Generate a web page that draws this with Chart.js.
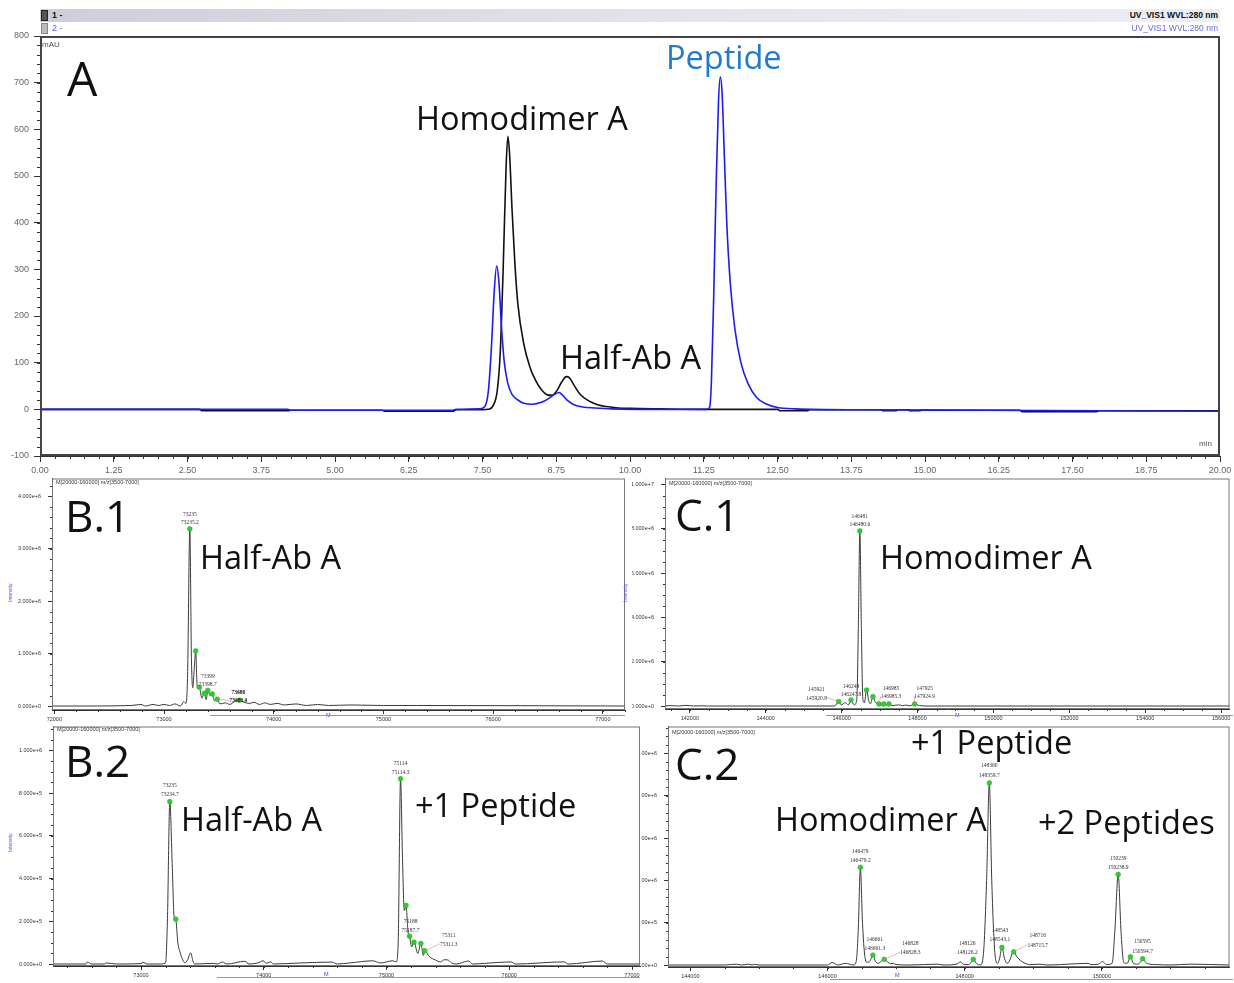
<!DOCTYPE html>
<html>
<head>
<meta charset="utf-8">
<script src="https://cdn.jsdelivr.net/npm/chart.js@4.4.1/dist/chart.umd.min.js"></script>
<style>
  html, body { margin: 0; padding: 0; background: #fff; }
  body { width: 1234px; height: 983px; position: relative; overflow: hidden; font-family: "Liberation Sans", Arial, sans-serif; }
  canvas { position: absolute; }
  .big { position: absolute; font-family: "Open Sans", sans-serif; color: #111; white-space: nowrap; line-height: 1; }
  .tiny { position: absolute; white-space: nowrap; line-height: 1; }
  .rot { position: absolute; white-space: nowrap; line-height: 1; transform: rotate(-90deg); transform-origin: 0 0; color: #5555ee; font-size: 5px; }
  .bar { position: absolute; height: 1px; background: #9a9a9a; }
</style>
</head>
<body>

<canvas id="uv"></canvas>
<canvas id="b1"></canvas>
<canvas id="c1"></canvas>
<canvas id="b2"></canvas>
<canvas id="c2"></canvas>

<!-- chromatogram header rows -->
<div style="position:absolute;left:40px;top:9px;width:1180px;height:13px;background:linear-gradient(90deg,#cdcedc,#e3e4ee 55%,#eceef5);"></div>
<div style="position:absolute;left:41px;top:10px;width:7px;height:11px;background:#555;border:1px solid #222;box-sizing:border-box;"></div>
<div style="position:absolute;left:41px;top:23px;width:7px;height:11px;background:#bbb;border:1px solid #888;box-sizing:border-box;"></div>
<div class="tiny" style="left:52px;top:11px;font-size:9px;font-weight:bold;color:#111;">1 -</div>
<div class="tiny" style="left:52px;top:24px;font-size:9px;color:#5555ff;">2 -</div>
<div class="tiny" style="right:16px;top:11px;font-size:8.5px;font-weight:bold;color:#111;">UV_VIS1 WVL:280 nm</div>
<div class="tiny" style="right:16px;top:24px;font-size:8.5px;color:#6a6ad8;">UV_VIS1 WVL:280 nm</div>
<div class="tiny" style="left:42px;top:41px;font-size:8px;color:#555;">mAU</div>
<div class="tiny" style="left:1199px;top:440px;font-size:8px;color:#555;">min</div>

<!-- panel captions -->
<div class="big" style="left:67px;top:54px;font-size:48px;">A</div>
<div class="big" style="left:416px;top:102px;font-size:32.5px;">Homodimer A</div>
<div class="big" style="left:666px;top:41px;font-size:32.5px;color:#1f7ad0;">Peptide</div>
<div class="big" style="left:560px;top:341px;font-size:32.5px;">Half-Ab A</div>

<div class="big" style="left:65px;top:493px;font-size:44px;">B.1</div>
<div class="big" style="left:200px;top:541px;font-size:32.5px;">Half-Ab A</div>
<div class="big" style="left:675px;top:492px;font-size:44px;">C.1</div>
<div class="big" style="left:880px;top:541px;font-size:32.5px;">Homodimer A</div>

<div class="big" style="left:65px;top:738px;font-size:44px;">B.2</div>
<div class="big" style="left:181px;top:803px;font-size:32.5px;">Half-Ab A</div>
<div class="big" style="left:415px;top:789px;font-size:32.5px;">+1 Peptide</div>
<div class="big" style="left:675px;top:741px;font-size:44px;">C.2</div>
<div class="big" style="left:911px;top:726px;font-size:32.5px;">+1 Peptide</div>
<div class="big" style="left:775px;top:803px;font-size:32.5px;">Homodimer A</div>
<div class="big" style="left:1038px;top:806px;font-size:32.5px;">+2 Peptides</div>

<!-- spectrum headers, axis names, scroll bars -->
<div class="tiny" style="left:56px;top:480px;font-size:5.5px;color:#333;">M[20000-160000] m/z[3500-7000]</div>
<div class="tiny" style="left:669px;top:481px;font-size:5.5px;color:#333;">M[20000-160000] m/z[3500-7000]</div>
<div class="tiny" style="left:57px;top:727px;font-size:5.5px;color:#333;">M[20000-160000] m/z[3500-7000]</div>
<div class="tiny" style="left:672px;top:730px;font-size:5.5px;color:#333;">M[20000-160000] m/z[3500-7000]</div>
<div class="rot" style="left:8px;top:602px;">Intensity</div>
<div class="rot" style="left:8px;top:852px;">Intensity</div>
<div class="rot" style="left:623px;top:602px;">Intensity</div>
<div class="tiny" style="left:326px;top:713px;font-size:5.5px;color:#4444dd;">M</div>
<div class="tiny" style="left:955px;top:713px;font-size:5.5px;color:#4444dd;">M</div>
<div class="tiny" style="left:324px;top:972px;font-size:5.5px;color:#4444dd;">M</div>
<div class="tiny" style="left:895px;top:973px;font-size:5.5px;color:#4444dd;">M</div>
<div class="bar" style="left:210px;top:715px;width:415px;"></div>
<div class="bar" style="left:826px;top:715px;width:407px;"></div>
<div class="bar" style="left:217px;top:977px;width:423px;"></div>
<div class="bar" style="left:830px;top:979px;width:403px;"></div>

<script>
// ---------------- UV chromatogram, 280 nm (time in min, absorbance in mAU) ----------------
const uvTrace1 = [[0,0],[2.7,0],[2.75,-3],[4.2,-3],[4.25,-2],[5.8,-2],[5.85,-4],[7.0,-4],[7.05,-1],[7.5,-1],[7.6,0],
  [7.68,8],[7.75,40],[7.8,120],[7.85,300],[7.9,520],[7.93,585],[7.96,545],[8.0,430],[8.05,310],[8.1,225],[8.2,140],
  [8.3,92],[8.4,62],[8.5,42],[8.6,31],[8.68,30],[8.76,40],[8.84,58],[8.92,70],[8.97,68],[9.05,52],[9.15,33],[9.3,18],
  [9.45,10],[9.6,6],[9.8,3],[10.0,2],[10.5,1],[11.3,0],[12.5,0],[12.55,-3],[13.0,-3],[13.05,-1],[14.25,-1],[14.3,-3],
  [14.5,-3],[14.55,-1],[14.7,-1],[14.75,-3],[14.9,-3],[14.95,-2],[16.6,-2],[16.65,-5],[17.9,-5],[17.95,-3],[20,-3]];
const uvTrace2 = [[0,0],[4.2,0],[4.25,-2],[7.0,-2],[7.05,0],[7.45,1],[7.54,6],[7.6,40],[7.65,130],[7.7,255],[7.74,307],
  [7.78,270],[7.82,180],[7.87,100],[7.93,55],[8.0,32],[8.1,20],[8.2,13],[8.35,11],[8.5,15],[8.62,23],[8.72,32],[8.8,36],
  [8.86,30],[8.95,18],[9.05,10],[9.2,5],[9.4,3],[9.7,1],[10.5,0],[11.3,0],[11.35,5],[11.38,60],[11.42,250],[11.46,480],
  [11.5,660],[11.53,712],[11.56,680],[11.6,540],[11.64,400],[11.7,270],[11.78,170],[11.88,100],[12.0,55],[12.15,25],
  [12.3,12],[12.5,4],[12.8,1],[14.0,-1],[16.0,-2],[18.0,-3],[20,-4]];

// ---------------- deconvoluted mass spectra (mass in Da, intensity in counts) ----------------
// B.1  half antibody
const b1Trace = [[71979,0],[72300,0],[72700,1e4],[72790,3e4],[72830,0],[72900,3e4],[72950,1e4],[73000,3e4],[73050,1e4],
  [73100,4e4],[73150,0],[73180,8e4],[73200,5e4],[73215,6e5],[73235.2,3.38e6],[73250,9e5],[73262,3.5e5],[73275,7e5],
  [73289,1.05e6],[73300,4.5e5],[73310,3.3e5],[73322,3.6e5],[73345,1.5e5],[73368,2.4e5],[73385,1.2e5],[73398.7,3.0e5],
  [73420,2.0e5],[73440,2.3e5],[73460,1.0e5],[73485.6,1.3e5],[73510,4e4],[73560,6e4],[73600,3e4],[73640,8e4],
  [73686.4,1.1e5],[73730,7e4],[73780,5e4],[73820,7e4],[73870,3e4],[73920,6e4],[73970,3e4],[74030,5e4],[74100,2e4],
  [74200,4e4],[74300,1e4],[74400,3e4],[74500,1e4],[74700,2e4],[75000,1e4],[75300,1e4],[77202,0]];
const b1PeakMass = [73235.2, 73289, 73322, 73368, 73398.7, 73440, 73485.6, 73686.4];
const b1PeakInt  = [3.38e6, 1.05e6, 3.6e5, 2.4e5, 3.0e5, 2.3e5, 1.3e5, 1.1e5];
const b1Labels   = [73235.2, 73398.7, 73485.6, 73686.4];

// C.1  homodimer
const c1Trace = [[141346,0],[141500,2e4],[141700,0],[141900,3e4],[142100,0],[142300,1e4],[142500,0],[145800,0],
  [145850,5e4],[145920.8,2.0e5],[145990,5e4],[146100,1.5e5],[146180,5e4],[146247.8,2.7e5],[146330,5e4],[146400,3e5],
  [146440,3.5e6],[146480.6,7.9e6],[146520,3.5e6],[146560,3e5],[146600,1.5e5],[146657,7.2e5],[146720,2e5],[146760,1e5],
  [146823,4.2e5],[146880,2e5],[146940,1e5],[146985.3,9e4],[147050,5e4],[147109,9e4],[147180,4e4],[147247,9e4],
  [147350,2e4],[147500,5e4],[147600,2e4],[147700,4e4],[147800,1e4],[147924.9,9e4],[148050,2e4],[148300,0],[156220,0]];
const c1PeakMass = [145920.8, 146247.8, 146480.6, 146657, 146823, 146985.3, 147109, 147247, 147924.9];
const c1PeakInt  = [2.0e5, 2.7e5, 7.9e6, 7.2e5, 4.2e5, 9e4, 9e4, 9e4, 9e4];
const c1Labels   = [145920.8, 146247.8, 146480.6, 146985.3, 147924.9];

// B.2  half antibody after conjugation
const b2Trace = [[72283,0],[72550,0],[72561,9e3],[72600,0],[72700,0],[72715,5e3],[72800,0],[73000,2e3],[73016,8e3],
  [73050,0],[73150,0],[73200,5e3],[73215,2e5],[73234.7,7.6e5],[73255,4.5e5],[73270,2.2e5],[73283,2.1e5],[73300,1e5],
  [73317,5.7e4],[73340,2e4],[73358,6e3],[73380,2e4],[73404,5.2e4],[73425,1e4],[73440,0],[73588,3e3],[73620,0],
  [73664,9e3],[73700,0],[73846,1.3e4],[73880,0],[73950,5e3],[73995,1.5e4],[74020,3e3],[74055,1e4],[74080,0],
  [74300,5e3],[74558,9e3],[74600,0],[74700,5e3],[74889,1.5e4],[74950,5e3],[75051,1.5e4],[75080,1e4],[75095,1e5],
  [75114.3,8.67e5],[75130,5e5],[75145,2.5e5],[75159,2.74e5],[75175,1.5e5],[75187.7,1.3e5],[75205,8e4],[75224,1.02e5],
  [75255,5e4],[75280,9.6e4],[75300,4e4],[75311.3,6.2e4],[75350,3.4e4],[75398,1.9e4],[75440,1e4],[75470,2e4],
  [75499,1.9e4],[75530,5e3],[75567,0],[75669,1.4e4],[75700,0],[75800,3e3],[76014,1e4],[76050,0],[76447,1e4],
  [76480,0],[76759,1.4e4],[76800,0],[77065,0]];
const b2PeakMass = [73234.7, 73283, 75114.3, 75159, 75187.7, 75224, 75280, 75311.3];
const b2PeakInt  = [7.6e5, 2.1e5, 8.67e5, 2.74e5, 1.3e5, 1.02e5, 9.6e4, 6.2e4];
const b2Labels   = [73234.7, 75114.3, 75187.7, 75311.3];

// C.2  homodimer after conjugation
const c2Trace = [[143674,0],[144500,0],[144670,1e4],[144750,0],[144838,1e4],[144900,0],[144935,8e3],[145000,0],
  [146000,0],[146070,3e4],[146150,0],[146263,2e4],[146380,0],[146420,5e4],[146450,4.5e5],[146479.2,1.154e6],
  [146510,5e5],[146545,1e5],[146580,3e4],[146620,5e4],[146661.3,1.17e5],[146700,4e4],[146740,2e4],[146790,5e4],
  [146828.3,6.7e4],[146870,4e4],[146920,1.5e4],[146960,2e4],[147000,5e3],[147200,0],[147600,1e4],[147700,0],
  [147900,1.5e4],[147935,4e4],[147980,1e4],[148060,5e3],[148100,4e4],[148126.2,6.7e4],[148170,2e4],[148230,0],
  [148280,2e5],[148320,1.0e6],[148359.7,2.15e6],[148395,1.0e6],[148440,1.5e5],[148480,2e4],[148510,8e4],
  [148543.1,2.08e5],[148580,8e4],[148620,2e4],[148660,6e4],[148700,1.5e5],[148715.7,1.56e5],[148760,1e5],
  [148820,5e4],[148880,2e4],[148950,5e3],[149100,1e4],[149200,0],[149400,5e3],[149800,2e4],[149840,5e3],
  [149950,1e4],[150010,4e4],[150070,5e3],[150150,2e4],[150190,4e5],[150238.9,1.07e6],[150280,4e5],[150320,3e4],
  [150370,2e4],[150417,9.7e4],[150460,2e4],[150520,1e4],[150560,3e4],[150594.7,7.4e4],[150640,3e4],[150700,1e4],
  [150800,5e3],[151000,0],[151300,1e4],[151862,0]];
const c2PeakMass = [146479.2, 146661.3, 146828.3, 148126.2, 148359.7, 148543.1, 148715.7, 150238.9, 150417, 150594.7];
const c2PeakInt  = [1.154e6, 1.17e5, 6.7e4, 6.7e4, 2.15e6, 2.08e5, 1.56e5, 1.07e6, 9.7e4, 7.4e4];
const c2Labels   = [146479.2, 146661.3, 146828.3, 148126.2, 148359.7, 148543.1, 148715.7, 150238.9, 150594.7];

// ---------------- drawing helpers ----------------
// label placement (pixel nudges so the annotation text does not collide)
const b1LabelShift = [[0,0],[0,1],[21,8],[-1,7]];
const c1LabelShift = [[-22,3],[0,1],[0,0],[12,-1],[10,-1]];
const b2LabelShift = [[0,-1],[0,0],[1,1],[24,0]];
const c2LabelShift = [[0,0],[2,0],[26,0],[-6,0],[0,-1],[-2,-1],[24,0],[0,0],[0,-1]];

const framePlugin = {
  id: 'frame',
  afterDraw(chart, args, o) {
    const a = chart.chartArea, ctx = chart.ctx;
    ctx.save();
    ctx.strokeStyle = o.color; ctx.lineWidth = o.width;
    const h = o.width / 2;
    ctx.strokeRect(a.left + h, a.top + h, a.right - a.left - o.width, a.bottom - a.top - o.width);
    ctx.restore();
  }
};

const minorTickPlugin = {
  id: 'minorTicks',
  afterDraw(chart, args, o) {
    const ctx = chart.ctx, a = chart.chartArea, sx = chart.scales.x, sy = chart.scales.y;
    ctx.save();
    ctx.strokeStyle = o.color; ctx.lineWidth = 1;
    if (o.x) {
      const n0 = Math.ceil(sx.min / o.x), n1 = Math.floor(sx.max / o.x);
      for (let n = n0; n <= n1; n++) {
        const p = Math.round(sx.getPixelForValue(n * o.x)) + 0.5;
        ctx.beginPath(); ctx.moveTo(p, a.bottom); ctx.lineTo(p, a.bottom + o.len); ctx.stroke();
      }
    }
    if (o.y) {
      const n0 = Math.ceil(sy.min / o.y), n1 = Math.floor(sy.max / o.y);
      for (let n = n0; n <= n1; n++) {
        const p = Math.round(sy.getPixelForValue(n * o.y)) + 0.5;
        ctx.beginPath(); ctx.moveTo(a.left - o.len, p); ctx.lineTo(a.left, p); ctx.stroke();
      }
    }
    ctx.restore();
  }
};

const peakLabelPlugin = {
  id: 'peakLabels',
  afterDatasetsDraw(chart, args, o) {
    if (!o.items) return;
    const ctx = chart.ctx, sx = chart.scales.x, sy = chart.scales.y;
    ctx.save();
    ctx.font = o.font;
    ctx.textAlign = 'center';
    ctx.textBaseline = 'alphabetic';
    o.items.forEach(it => {
      const px = sx.getPixelForValue(it.mass), py = sy.getPixelForValue(it.value);
      const lx = px + it.dx, ly = py - 5 + it.dy;
      const l1 = String(Math.round(it.mass)), l2 = it.mass.toFixed(1);
      if (Math.abs(it.dx) > 8) {
        const w = ctx.measureText(l2).width;
        ctx.strokeStyle = 'rgba(235,120,120,0.8)'; ctx.lineWidth = 0.7;
        ctx.beginPath(); ctx.moveTo(px, py);
        ctx.lineTo(it.dx > 0 ? lx - w / 2 : lx + w / 2, ly - 2); ctx.stroke();
      }
      ctx.fillStyle = o.color;
      ctx.fillText(l1, lx, ly - o.gap);
      ctx.fillText(l2, lx, ly);
    });
    ctx.restore();
  }
};

function labelItems(masses, peakMass, peakInt, shifts) {
  return masses.map((m, i) => {
    const k = peakMass.indexOf(m);
    return { mass: m, value: peakInt[k], dx: shifts[i][0], dy: shifts[i][1] };
  });
}

function makeChart(id, box, area, datasets, xOpt, yOpt, extra) {
  const cv = document.getElementById(id);
  cv.width = box.w; cv.height = box.h;
  cv.style.left = box.x + 'px'; cv.style.top = box.y + 'px';
  return new Chart(cv, {
    type: 'line',
    data: { datasets },
    options: {
      responsive: false, animation: false, devicePixelRatio: 1,
      events: [],
      layout: { padding: { top: area.top - box.y, right: box.x + box.w - area.right, left: 0, bottom: 0 } },
      plugins: Object.assign({ legend: { display: false }, tooltip: { enabled: false } }, extra),
      scales: {
        x: Object.assign({
          type: 'linear',
          afterFit(s) { s.height = box.y + box.h - area.bottom; s.paddingLeft = 0; s.paddingRight = 0; }
        }, xOpt),
        y: Object.assign({
          type: 'linear',
          afterFit(s) { s.width = area.left - box.x; s.paddingTop = 0; s.paddingBottom = 0; }
        }, yOpt)
      }
    },
    plugins: [framePlugin, minorTickPlugin, peakLabelPlugin]
  });
}

// axis with major ticks placed on whole multiples of the step
function axis(min, max, step, fmt, size, color, tickLen, pad) {
  return {
    min, max,
    afterBuildTicks(scale) {
      const t = [];
      for (let n = Math.ceil(min / step - 1e-9); n * step <= max + 1e-9; n++) t.push({ value: n * step });
      scale.ticks = t;
    },
    ticks: { autoSkip: false, maxRotation: 0, callback: fmt,
             font: { family: 'Liberation Sans', size }, color, padding: pad },
    grid: { drawOnChartArea: false, tickLength: tickLen, color: '#333', tickWidth: 1 },
    border: { color: '#333', width: 1 }
  };
}

const traceLine = (data, color, width, order) => ({
  data, borderColor: color, borderWidth: width, pointRadius: 0, fill: false,
  cubicInterpolationMode: 'monotone', order
});
const peakDots = (mass, inten) => ({
  data: mass.map((m, i) => [m, inten[i]]), showLine: false, pointRadius: 2.4,
  pointBackgroundColor: '#2bd12b', pointBorderColor: '#1fa81f', pointBorderWidth: 0.5, order: 0
});

// ---------------- A: chromatogram ----------------
makeChart('uv', { x: 0, y: 0, w: 1234, h: 484 }, { left: 40, top: 36, right: 1220, bottom: 456 },
  [traceLine(uvTrace2, '#1c1cf2', 1.6, 1), traceLine(uvTrace1, '#111', 1.6, 2)],
  axis(0, 20, 1.25, v => v.toFixed(2), 9, '#666', 6, 3),
  axis(-100, 800, 100, v => String(v), 9, '#666', 6, 5),
  { frame: { color: '#444', width: 2 }, minorTicks: { x: 0.25, y: 20, len: 3, color: '#333' } });

// ---------------- B.1 ----------------
makeChart('b1', { x: 0, y: 474, w: 630, h: 250 }, { left: 52, top: 478, right: 625, bottom: 710 },
  [peakDots(b1PeakMass, b1PeakInt), traceLine(b1Trace, '#3a3a3a', 1, 1)],
  axis(71979, 77202, 1000, v => String(v), 5.5, '#333', 4, 2),
  axis(-0.076e6, 4.343e6, 1e6, v => v.toExponential(3), 5.5, '#333', 4, 7),
  { frame: { color: '#777', width: 1 }, minorTicks: { x: 200, y: 2e5, len: 2, color: '#333' },
    peakLabels: { items: labelItems(b1Labels, b1PeakMass, b1PeakInt, b1LabelShift), font: '5.5px "Liberation Serif"', color: '#333', gap: 8 } });

// ---------------- C.1 ----------------
makeChart('c1', { x: 632, y: 474, w: 602, h: 250 }, { left: 665, top: 478, right: 1233, bottom: 709 },
  [peakDots(c1PeakMass, c1PeakInt), traceLine(c1Trace, '#3a3a3a', 1, 1)],
  axis(141346, 156220, 2000, v => String(v), 5.5, '#333', 4, 2),
  axis(-0.135e6, 10.27e6, 2e6, v => v.toExponential(3), 5.5, '#333', 4, 7),
  { frame: { color: '#777', width: 1 }, minorTicks: { x: 500, y: 5e5, len: 2, color: '#333' },
    peakLabels: { items: labelItems(c1Labels, c1PeakMass, c1PeakInt, c1LabelShift), font: '5.5px "Liberation Serif"', color: '#333', gap: 8.5 } });

// ---------------- B.2 ----------------
makeChart('b2', { x: 0, y: 722, w: 650, h: 261 }, { left: 53, top: 725, right: 640, bottom: 966 },
  [peakDots(b2PeakMass, b2PeakInt), traceLine(b2Trace, '#3a3a3a', 1, 1)],
  axis(72283, 77065, 1000, v => String(v), 5.5, '#333', 4, 2),
  axis(-0.0093e6, 1.1116e6, 2e5, v => v.toExponential(3), 5.5, '#333', 4, 7),
  { frame: { color: '#777', width: 1 }, minorTicks: { x: 200, y: 5e4, len: 2, color: '#333' },
    peakLabels: { items: labelItems(b2Labels, b2PeakMass, b2PeakInt, b2LabelShift), font: '5.5px "Liberation Serif"', color: '#333', gap: 9 } });

// ---------------- C.2 ----------------
makeChart('c2', { x: 628, y: 722, w: 606, h: 261 }, { left: 668, top: 725, right: 1233, bottom: 967 },
  [peakDots(c2PeakMass, c2PeakInt), traceLine(c2Trace, '#3a3a3a', 1, 1)],
  axis(143674, 151862, 2000, v => String(v), 5.5, '#333', 4, 2),
  axis(-0.0235e6, 2.817e6, 5e5, v => v.toExponential(3).slice(-5), 5.5, '#333', 4, 7),
  { frame: { color: '#777', width: 1 }, minorTicks: { x: 500, y: 1e5, len: 2, color: '#333' },
    peakLabels: { items: labelItems(c2Labels, c2PeakMass, c2PeakInt, c2LabelShift), font: '5.5px "Liberation Serif"', color: '#333', gap: 9.5 } });
</script>
</body>
</html>
